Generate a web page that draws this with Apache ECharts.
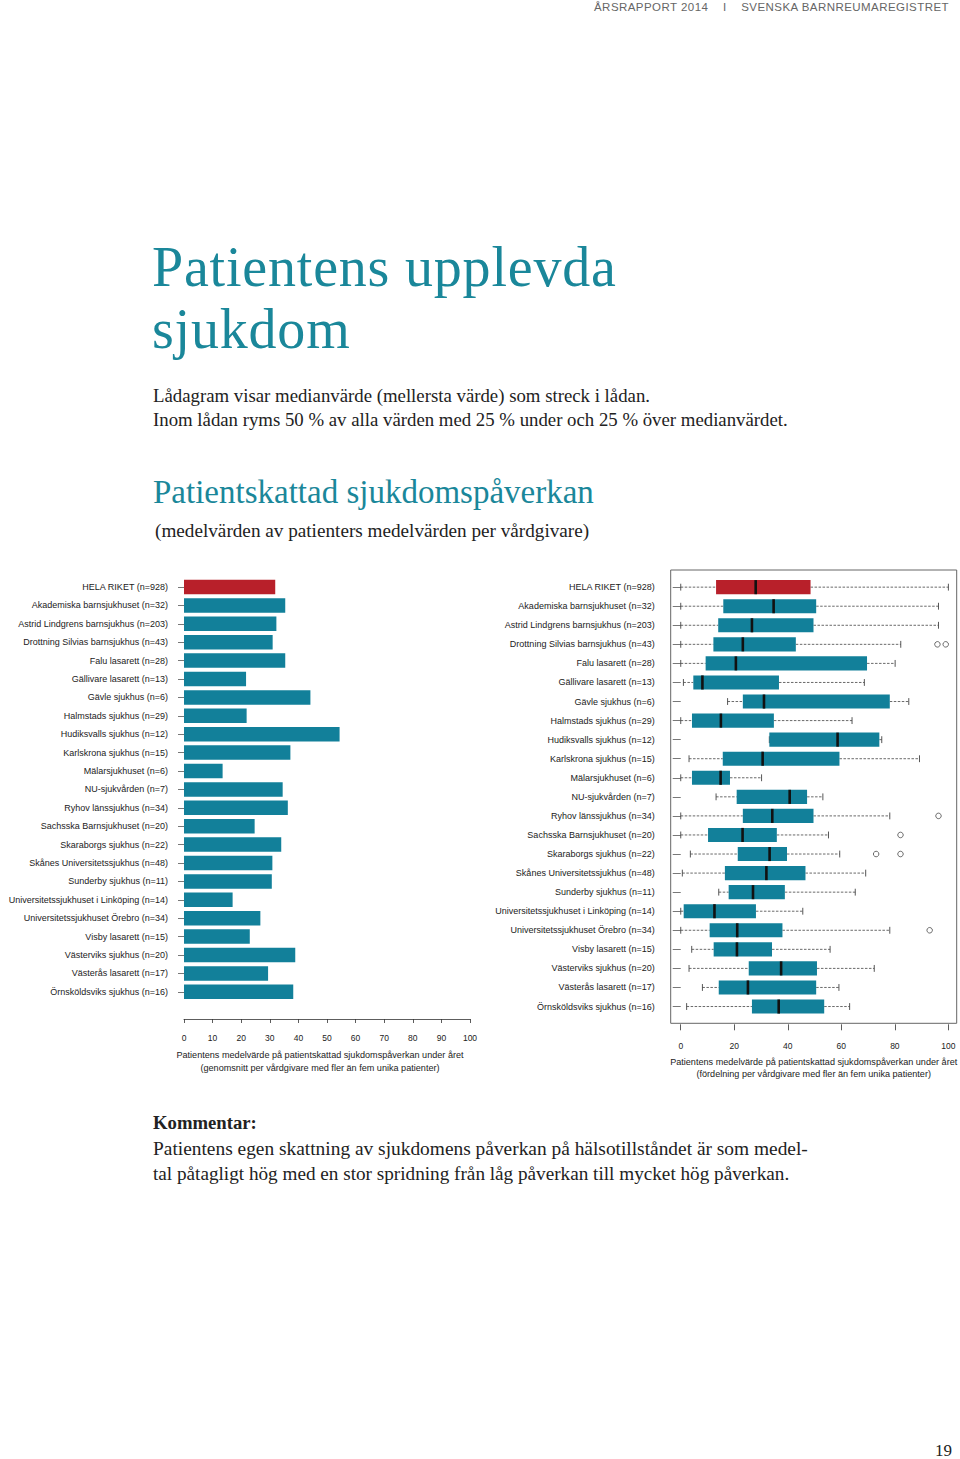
<!DOCTYPE html>
<html>
<head>
<meta charset="utf-8">
<script src="https://cdn.jsdelivr.net/npm/echarts@6/dist/echarts.min.js"></script>
<style>
  html, body { margin: 0; padding: 0; background: #fff; }
  #page { position: relative; width: 960px; height: 1459px; overflow: hidden; background: #fff; }
  #chart { position: absolute; left: 0; top: 0; width: 960px; height: 1459px; }
  .t { position: absolute; white-space: nowrap; margin: 0; }
  .serif { font-family: "Liberation Serif", "DejaVu Serif", serif; }
  .sans { font-family: "Liberation Sans", Arial, sans-serif; }
  .teal { color: #1a879a; }
</style>
</head>
<body>
<div id="page">
  <div id="chart"></div>
  <div class="t sans" style="left:594px; top:1px; font-size:11.5px; letter-spacing:0.45px; color:#666;">ÅRSRAPPORT 2014&nbsp;&nbsp;&nbsp;&nbsp;I&nbsp;&nbsp;&nbsp;&nbsp;SVENSKA BARNREUMAREGISTRET</div>
  <div class="t serif teal" style="left:152px; top:236px; font-size:56px; line-height:62px; letter-spacing:0.8px;">Patientens upplevda</div>
  <div class="t serif teal" style="left:152px; top:298px; font-size:56px; line-height:62px; letter-spacing:0.8px;">sjukdom</div>
  <div class="t serif" style="left:153px; top:384px; font-size:18.8px; line-height:24px; color:#222;">Lådagram visar medianvärde (mellersta värde) som streck i lådan.</div>
  <div class="t serif" style="left:153px; top:408px; font-size:18.8px; line-height:24px; color:#222;">Inom lådan ryms 50 % av alla värden med 25 % under och 25 % över medianvärdet.</div>
  <div class="t serif teal" style="left:153px; top:472px; font-size:33px; line-height:40px;">Patientskattad sjukdomspåverkan</div>
  <div class="t serif" style="left:155px; top:519px; font-size:19.2px; line-height:24px; color:#222;">(medelvärden av patienters medelvärden per vårdgivare)</div>
  <div class="t serif" style="left:153px; top:1111px; font-size:18.7px; line-height:24px; font-weight:bold; color:#222;">Kommentar:</div>
  <div class="t serif" style="left:153px; top:1136px; font-size:19.4px; line-height:25px; color:#222;">Patientens egen skattning av sjukdomens påverkan på hälsotillståndet är som medel-</div>
  <div class="t serif" style="left:153px; top:1161px; font-size:19.2px; line-height:25px; color:#222;">tal påtagligt hög med en stor spridning från låg påverkan till mycket hög påverkan.</div>
  <div class="t serif" style="left:935px; top:1443px; font-size:17px; line-height:15px; color:#222;">19</div>
</div>
<script>
// ---- data ----
const categories = [
  "HELA RIKET (n=928)",
  "Akademiska barnsjukhuset (n=32)",
  "Astrid Lindgrens barnsjukhus (n=203)",
  "Drottning Silvias barnsjukhus (n=43)",
  "Falu lasarett (n=28)",
  "Gällivare lasarett (n=13)",
  "Gävle sjukhus (n=6)",
  "Halmstads sjukhus (n=29)",
  "Hudiksvalls sjukhus (n=12)",
  "Karlskrona sjukhus (n=15)",
  "Mälarsjukhuset (n=6)",
  "NU-sjukvården (n=7)",
  "Ryhov länssjukhus (n=34)",
  "Sachsska Barnsjukhuset (n=20)",
  "Skaraborgs sjukhus (n=22)",
  "Skånes Universitetssjukhus (n=48)",
  "Sunderby sjukhus (n=11)",
  "Universitetssjukhuset i Linköping (n=14)",
  "Universitetssjukhuset Örebro (n=34)",
  "Visby lasarett (n=15)",
  "Västerviks sjukhus (n=20)",
  "Västerås lasarett (n=17)",
  "Örnsköldsviks sjukhus (n=16)"
];
const meanValues = [31.9, 35.4, 32.3, 31.0, 35.4, 21.7, 44.2, 21.9, 54.4, 37.2, 13.5, 34.5, 36.3, 24.7, 34.0, 30.9, 30.7, 17.0, 26.7, 23.0, 38.9, 29.4, 38.2];
const whiskerLow  = [0, 0, 0, 0, 0, 1.0, 17.5, 0, 33.1, 3.1, 0, 13.2, 0, 0, 3.6, 0.6, 14.2, 0, 0, 4.1, 3.1, 8.1, 2.2];
const quartile1   = [13.2, 15.9, 14.0, 12.2, 9.3, 4.7, 23.2, 4.2, 33.1, 15.7, 4.2, 20.9, 23.2, 10.2, 21.3, 16.5, 17.9, 1.1, 10.8, 12.3, 25.4, 14.2, 26.6];
const medians     = [28.0, 34.7, 26.6, 23.2, 20.6, 8.1, 31.1, 15.0, 58.6, 30.6, 14.9, 40.7, 34.2, 23.1, 33.2, 32.0, 27.0, 12.6, 21.1, 21.0, 37.5, 25.1, 36.6];
const quartile3   = [48.5, 50.6, 49.6, 43.0, 69.6, 36.7, 78.1, 34.8, 74.2, 59.3, 18.4, 47.2, 49.6, 35.9, 39.7, 46.6, 38.9, 28.1, 38.0, 34.1, 50.9, 50.6, 53.6];
const whiskerHigh = [100, 96.3, 96.3, 82.2, 80.1, 68.6, 85.2, 64.0, 75.1, 89.2, 30.2, 53.1, 78.1, 55.2, 59.4, 69.1, 65.2, 45.6, 78.1, 55.8, 72.3, 59.1, 63.1];
// outliers: [category index, value]
const outliers = [[3, 95.9], [3, 99.0], [12, 96.3], [13, 82.1], [14, 73.0], [14, 82.1], [18, 93.0]];
const barTicks = [0, 10, 20, 30, 40, 50, 60, 70, 80, 90, 100];
const boxTicks = [0, 20, 40, 60, 80, 100];

const TEAL = '#12809a';
const RED = '#b8202a';
const TXT = '#222';
const FONT = '"Liberation Sans", Arial, sans-serif';

const rowNumbers = categories.map((c, i) => i + 1);
const boxData = categories.map((c, i) => [i + 1, whiskerLow[i], quartile1[i], medians[i], quartile3[i], whiskerHigh[i]]);
const outlierData = outliers.map(o => [o[1], o[0] + 1]);

const chart = echarts.init(document.getElementById('chart'), null, { renderer: 'svg' });

const option = {
  animation: false,
  textStyle: { fontFamily: FONT },
  grid: [
    { left: 184, top: 577.8, width: 286, height: 423.2, show: false },
    { left: 670.7, top: 570, width: 286, height: 453.3, show: true, borderColor: '#666', borderWidth: 1, backgroundColor: 'transparent' }
  ],
  xAxis: [
    {
      gridIndex: 0, type: 'value', min: 0, max: 100, interval: 10,
      offset: 18,
      axisLine: { show: true, lineStyle: { color: '#333', width: 0.8 } },
      axisTick: { show: true, length: 4, lineStyle: { color: '#333', width: 0.8 } },
      axisLabel: { color: '#222', fontSize: 8.5, margin: 14, customValues: barTicks },
      splitLine: { show: false },
      name: 'Patientens medelvärde på patientskattad sjukdomspåverkan under året\n(genomsnitt per vårdgivare med fler än fem unika patienter)',
      nameLocation: 'middle', nameGap: 30,
      nameTextStyle: { color: '#222', fontSize: 9.1, lineHeight: 12.5, padding: [0, 14, 0, 0] }
    },
    {
      gridIndex: 1, type: 'value', min: -3.75, max: 103.1,
      offset: 1,
      axisLine: { show: false },
      axisTick: { show: true, length: 6, customValues: boxTicks, lineStyle: { color: '#333', width: 0.8 } },
      axisLabel: { color: '#222', fontSize: 8.5, margin: 17, customValues: boxTicks },
      splitLine: { show: false },
      name: 'Patientens medelvärde på patientskattad sjukdomspåverkan under året\n(fördelning per vårdgivare med fler än fem unika patienter)',
      nameLocation: 'middle', nameGap: 32,
      nameTextStyle: { color: '#222', fontSize: 9.1, lineHeight: 11.5 }
    }
  ],
  yAxis: [
    {
      gridIndex: 0, type: 'category', data: categories, inverse: true,
      axisLine: { show: false },
      axisTick: { show: true, length: 6, alignWithLabel: true, lineStyle: { color: '#555', width: 0.8 } },
      axisLabel: { color: TXT, fontSize: 9, margin: 16 }
    },
    {
      gridIndex: 1, type: 'value', inverse: true, min: 0.1, max: 23.88,
      axisLine: { show: false },
      splitLine: { show: false },
      axisTick: { show: true, length: 8, customValues: rowNumbers, lineStyle: { color: '#555', width: 0.8 } },
      axisLabel: { color: TXT, fontSize: 9, margin: 16, customValues: rowNumbers,
        formatter: v => categories[Math.round(v) - 1] || '' }
    }
  ],
  series: [
    {
      type: 'bar', xAxisIndex: 0, yAxisIndex: 0,
      barWidth: 14.5,
      data: meanValues.map((v, i) => ({ value: v, itemStyle: { color: i === 0 ? RED : TEAL } }))
    },
    {
      type: 'custom', xAxisIndex: 1, yAxisIndex: 1,
      data: boxData,
      encode: { x: [1, 2, 3, 4, 5], y: 0 },
      renderItem: function (params, api) {
        const y = api.value(0);
        const lo = api.coord([api.value(1), y]);
        const q1 = api.coord([api.value(2), y]);
        const md = api.coord([api.value(3), y]);
        const q3 = api.coord([api.value(4), y]);
        const hi = api.coord([api.value(5), y]);
        const row = Math.abs(api.size([0, 1])[1]);
        const h = row * 0.74;
        const cap = row * 0.36;
        const color = params.dataIndex === 0 ? RED : TEAL;
        const dash = { stroke: '#444', lineWidth: 0.8, lineDash: [2.5, 1.5] };
        const solid = { stroke: '#444', lineWidth: 0.9 };
        return {
          type: 'group',
          children: [
            { type: 'line', shape: { x1: lo[0], y1: lo[1], x2: q1[0], y2: q1[1] }, style: dash },
            { type: 'line', shape: { x1: q3[0], y1: q3[1], x2: hi[0], y2: hi[1] }, style: dash },
            { type: 'line', shape: { x1: lo[0], y1: lo[1] - cap / 2, x2: lo[0], y2: lo[1] + cap / 2 }, style: solid },
            { type: 'line', shape: { x1: hi[0], y1: hi[1] - cap / 2, x2: hi[0], y2: hi[1] + cap / 2 }, style: solid },
            { type: 'rect', shape: { x: q1[0], y: q1[1] - h / 2, width: q3[0] - q1[0], height: h }, style: { fill: color } },
            { type: 'line', shape: { x1: md[0], y1: md[1] - h / 2, x2: md[0], y2: md[1] + h / 2 }, style: { stroke: '#111', lineWidth: 2.6 } }
          ]
        };
      }
    },
    {
      type: 'scatter', xAxisIndex: 1, yAxisIndex: 1,
      data: outlierData,
      symbol: 'circle', symbolSize: 5.5,
      itemStyle: { color: '#fff', borderColor: '#333', borderWidth: 0.9 }
    }
  ]
};
chart.setOption(option);
</script>
</body>
</html>
